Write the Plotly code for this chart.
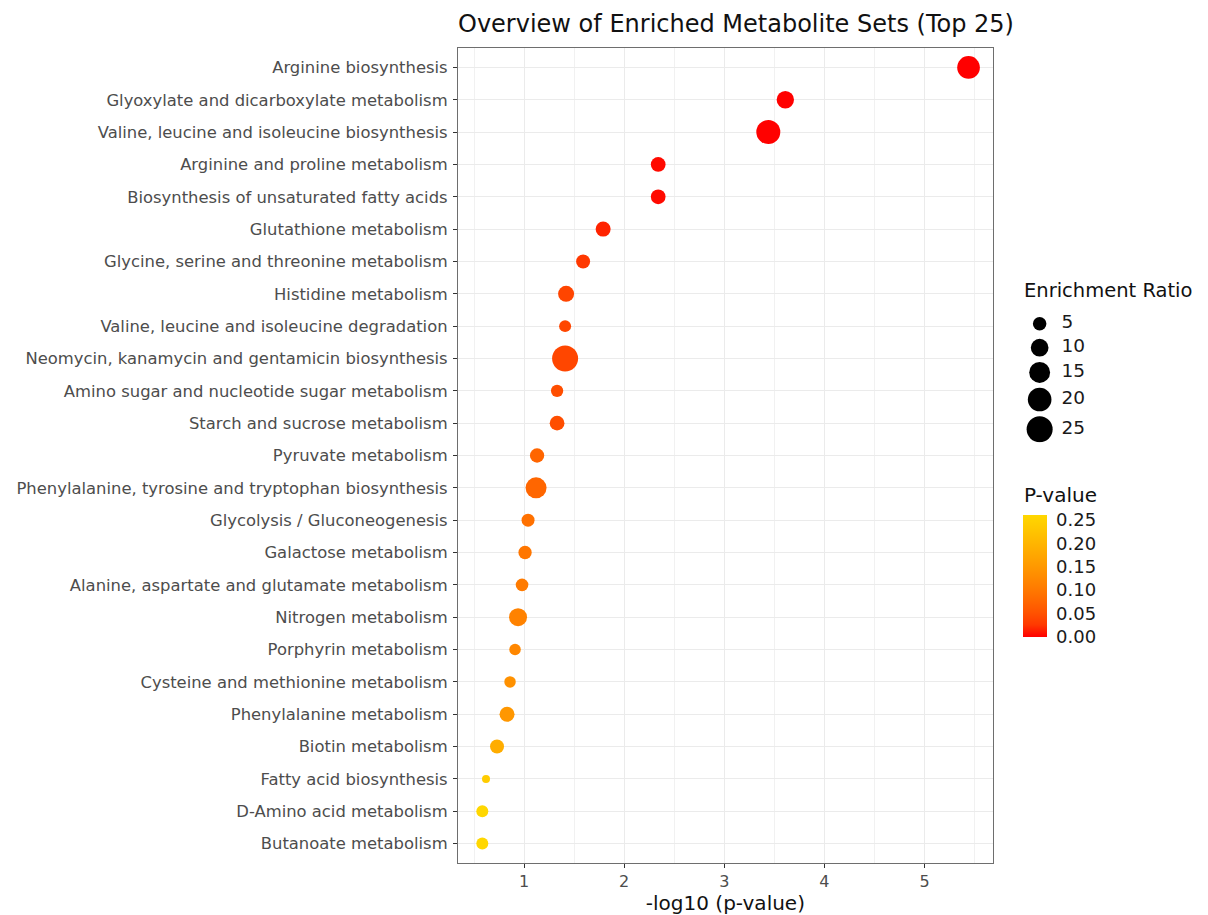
import numpy as np
import plotly.graph_objects as go

# ---------------- data ----------------
pathways = [
    "Arginine biosynthesis",
    "Glyoxylate and dicarboxylate metabolism",
    "Valine, leucine and isoleucine biosynthesis",
    "Arginine and proline metabolism",
    "Biosynthesis of unsaturated fatty acids",
    "Glutathione metabolism",
    "Glycine, serine and threonine metabolism",
    "Histidine metabolism",
    "Valine, leucine and isoleucine degradation",
    "Neomycin, kanamycin and gentamicin biosynthesis",
    "Amino sugar and nucleotide sugar metabolism",
    "Starch and sucrose metabolism",
    "Pyruvate metabolism",
    "Phenylalanine, tyrosine and tryptophan biosynthesis",
    "Glycolysis / Gluconeogenesis",
    "Galactose metabolism",
    "Alanine, aspartate and glutamate metabolism",
    "Nitrogen metabolism",
    "Porphyrin metabolism",
    "Cysteine and methionine metabolism",
    "Phenylalanine metabolism",
    "Biotin metabolism",
    "Fatty acid biosynthesis",
    "D-Amino acid metabolism",
    "Butanoate metabolism",
]
neg_log10_p = [5.44, 3.61, 3.44, 2.34, 2.34, 1.79, 1.59, 1.42, 1.41, 1.41,
               1.33, 1.33, 1.13, 1.12, 1.04, 1.01, 0.98, 0.94, 0.91, 0.86,
               0.83, 0.73, 0.62, 0.583, 0.583]
enrichment_ratio = [18.2, 9.5, 20.8, 6.3, 6.3, 6.6, 5.5, 7.8, 3.6, 25.0,
                    3.9, 6.3, 5.8, 15.2, 4.5, 4.8, 4.2, 10.4, 3.2, 3.2,
                    6.6, 5.5, 1.04, 3.6, 3.6]
size_breaks = [5, 10, 15, 20, 25]
pvalue_ticks = [0.00, 0.05, 0.10, 0.15, 0.20, 0.25]

# ---------------- helpers (style) ----------------
def size_px(er):
    return 3.4 + 4.52 * np.sqrt(np.asarray(er, dtype=float))

def _srgb_to_lin(c):
    c = c / 255.0
    return np.where(c <= 0.04045, c / 12.92, ((c + 0.055) / 1.055) ** 2.4)

def _lin_to_srgb(c):
    c = np.clip(c, 0, 1)
    return np.where(c <= 0.0031308, 12.92 * c, 1.055 * c ** (1 / 2.4) - 0.055) * 255

M = np.array([[0.4124, 0.3576, 0.1805], [0.2126, 0.7152, 0.0722], [0.0193, 0.1192, 0.9505]])
Minv = np.linalg.inv(M)
WP = np.array([0.95047, 1.0, 1.08883])

def _f(t):
    d = 6 / 29
    return np.where(t > d ** 3, np.cbrt(t), t / (3 * d * d) + 4 / 29)

def _finv(t):
    d = 6 / 29
    return np.where(t > d, t ** 3, 3 * d * d * (t - 4 / 29))

def rgb_to_lab(rgb):
    xyz = M @ _srgb_to_lin(np.array(rgb, dtype=float)) / WP
    fx, fy, fz = _f(xyz)
    return np.array([116 * fy - 16, 500 * (fx - fy), 200 * (fy - fz)])

def lab_to_rgb(lab):
    L, a, b = lab
    fy = (L + 16) / 116
    fx = fy + a / 500
    fz = fy - b / 200
    xyz = _finv(np.array([fx, fy, fz])) * WP
    return _lin_to_srgb(Minv @ xyz)

lab_lo = rgb_to_lab((255, 0, 0))
lab_hi = rgb_to_lab((255, 215, 0))
colorscale = []
for t in np.linspace(0, 1, 11):
    r, g, b = lab_to_rgb(lab_lo + (lab_hi - lab_lo) * t)
    colorscale.append([float(t), f"rgb({int(round(r))},{int(round(g))},{int(round(b))})"])

pvals = [10 ** (-v) for v in neg_log10_p]
FONT = "DejaVu Sans"

# x range with ggplot-like 5% expansion
xmin, xmax = min(neg_log10_p), max(neg_log10_p)
span = xmax - xmin
xrange = [xmin - 0.05 * span, xmax + 0.05 * span]

OFF = 8  # page body margin
W, H = 1200, 907
ml, mr, mt, mb = 447, 8, 40, 47
pw = W - ml - mr
ph = H - mt - mb
panel_right = 984

def px_x(x):
    return (x - OFF - ml) / pw

def px_y(y):
    return 1 - (y - OFF - mt) / ph

fig = go.Figure()

fig.add_trace(go.Scatter(
    x=neg_log10_p, y=pathways, mode="markers",
    marker=dict(
        size=size_px(enrichment_ratio), sizemode="diameter",
        color=pvals, cmin=min(pvals), cmax=max(pvals),
        colorscale=colorscale, line=dict(width=0), opacity=1,
        colorbar=dict(
            x=px_x(1022), xanchor="left", xpad=0,
            y=px_y(579), yanchor="middle", ypad=0,
            len=122, lenmode="pixels", thickness=24,
            outlinewidth=0, tickvals=pvalue_ticks, tickformat=".2f",
            ticks="outside", tickcolor="white", ticklen=6,
            tickfont=dict(family=FONT, size=18, color="#1a1a1a"),
        ),
    ),
    showlegend=False, hoverinfo="x+y",
))

# size legend drawn on a helper axis (pixel units)
leg_d = size_px(size_breaks)
leg_h = np.maximum(24, leg_d + 5)
centers = 13.5 + np.cumsum(leg_h) - leg_h / 2
fig.add_trace(go.Scatter(
    x=[15] * len(size_breaks), y=centers, mode="markers",
    marker=dict(size=leg_d, sizemode="diameter", color="#000000", opacity=1,
                line=dict(width=0)),
    xaxis="x2", yaxis="y2", showlegend=False, hoverinfo="skip",
))
fig.add_trace(go.Scatter(
    x=[37] * len(size_breaks), y=centers, mode="text",
    text=[str(s) for s in size_breaks], textposition="middle right",
    textfont=dict(family=FONT, size=18.5, color="#1a1a1a"),
    xaxis="x2", yaxis="y2", showlegend=False, hoverinfo="skip",
))

border = "#6e6e6e"
fig.update_layout(
    width=W, height=H,
    margin=dict(l=ml, r=mr, t=mt, b=mb),
    paper_bgcolor="white", plot_bgcolor="white",
    font=dict(family=FONT),
    title=dict(
        text="Overview of Enriched Metabolite Sets (Top 25)",
        x=0, xref="paper", xanchor="left",
        y=1 - (24 - OFF) / H, yref="container", yanchor="middle",
        font=dict(family=FONT, size=24, color="#111111"),
    ),
    xaxis=dict(
        domain=[0, (panel_right - ml) / pw], range=xrange,
        tickvals=[1, 2, 3, 4, 5],
        showgrid=True, gridcolor="#ebebeb", gridwidth=1,
        minor=dict(showgrid=True, dtick=0.5, tick0=0, gridcolor="#f1f1f1", gridwidth=1),
        zeroline=False,
        showline=True, mirror=True, linecolor=border, linewidth=1.2,
        ticks="outside", ticklen=4, tickcolor="#333333",
        tickfont=dict(family=FONT, size=16, color="#4d4d4d"),
        title=dict(text="-log10 (p-value)", standoff=2,
                   font=dict(family=FONT, size=20, color="#111111")),
    ),
    yaxis=dict(
        categoryorder="array", categoryarray=pathways,
        range=[len(pathways) - 0.4, -0.6],
        showgrid=True, gridcolor="#ebebeb", gridwidth=1,
        zeroline=False,
        showline=True, mirror=True, linecolor=border, linewidth=1.2,
        ticks="outside", ticklen=4, tickcolor="#333333",
        tickfont=dict(family=FONT, size=16.4, color="#4d4d4d"),
        ticklabelstandoff=2,
    ),
    xaxis2=dict(domain=[px_x(1024), px_x(1100)], range=[0, 76], anchor="y2",
                visible=False, fixedrange=True),
    yaxis2=dict(domain=[px_y(445), px_y(300)], range=[145, 0], anchor="x2",
                visible=False, fixedrange=True),
    annotations=[
        dict(text="Enrichment Ratio", x=px_x(1021), y=px_y(292), xref="paper", yref="paper",
             xanchor="left", yanchor="middle", showarrow=False,
             font=dict(family=FONT, size=19.5, color="#111111")),
        dict(text="P-value", x=px_x(1021), y=px_y(498), xref="paper", yref="paper",
             xanchor="left", yanchor="middle", showarrow=False,
             font=dict(family=FONT, size=20, color="#111111")),
    ],
)

fig.write_html("out.html")
